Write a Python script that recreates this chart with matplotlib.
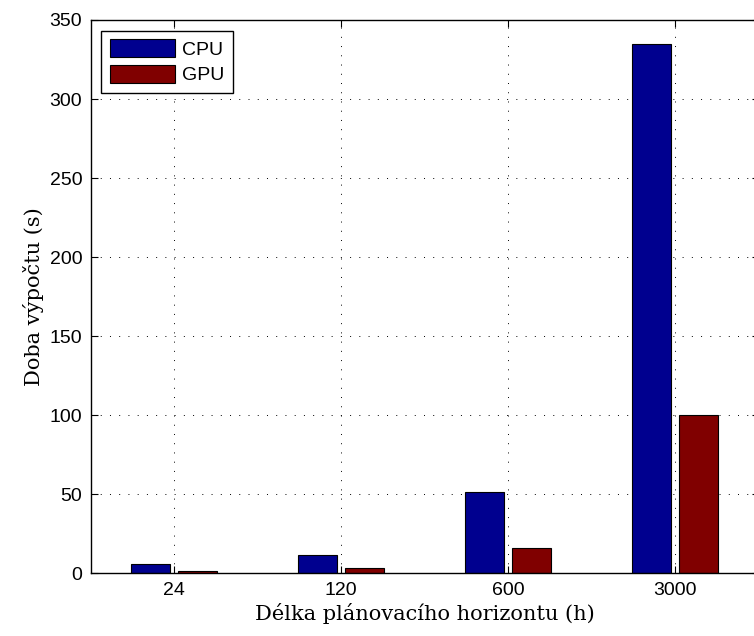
import numpy as np
import matplotlib
matplotlib.use('Agg')
import matplotlib.pyplot as plt

# data
horizons = ['24', '120', '600', '3000']
cpu_time = [5.7, 11.4, 51.5, 335]
gpu_time = [1.3, 3.4, 16.2, 100]

plt.rcParams['font.family'] = 'Liberation Sans'

fig = plt.figure(figsize=(7.54, 6.36), dpi=100)
ax = fig.add_axes([90.5/754, 1 - 573.3/636, 668/754, (573.3 - 20)/636])

x = np.arange(1, len(horizons) + 1)
w = 0.233
off = 0.143
ax.bar(x - off, cpu_time, w, color='#00008f', edgecolor='black', linewidth=0.8, label='CPU')
ax.bar(x + off, gpu_time, w, color='#800000', edgecolor='black', linewidth=0.8, label='GPU')

ax.set_xlim(0.5, 4.5)
ax.set_ylim(0, 350)
ax.set_xticks(x)
ax.set_xticklabels(horizons)
ax.set_yticks(np.arange(0, 351, 50))
ax.tick_params(direction='in', length=5, width=0.8, labelsize=14, top=True, right=True, pad=6)
for s in ax.spines.values():
    s.set_linewidth(1.0)

ax.set_axisbelow(True)
ax.grid(True, linestyle=(0, (1, 8.5)), color='black', linewidth=0.7)

ax.set_xlabel('Délka plánovacího horizontu (h)', family='DejaVu Serif', fontsize=15, labelpad=3)
ax.set_ylabel('Doba výpočtu (s)', family='DejaVu Serif', fontsize=15, labelpad=4)

leg = ax.legend(loc='upper left', fontsize=14, handlelength=3.35, handleheight=1.03,
                borderaxespad=0.55, fancybox=False, framealpha=1, edgecolor='black',
                handletextpad=0.35, labelspacing=0.3, borderpad=0.45)
leg.get_frame().set_linewidth(1.0)

fig.savefig('out.png', dpi=100)
